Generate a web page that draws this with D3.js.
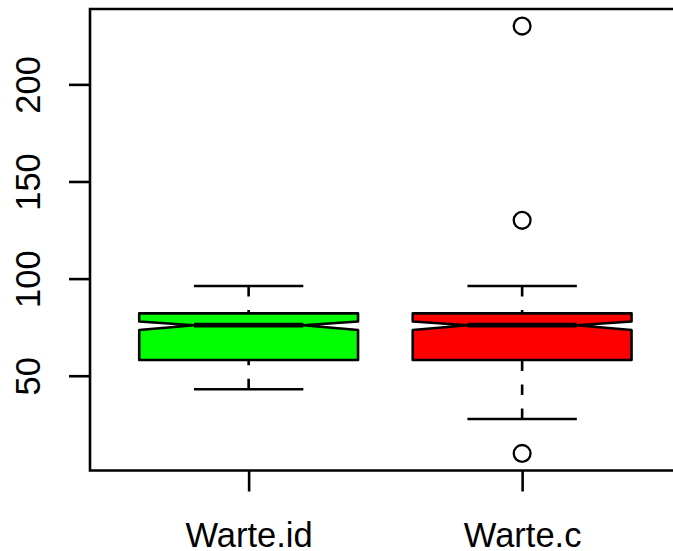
<!DOCTYPE html>
<html>
<head>
<meta charset="utf-8">
<script src="https://cdn.jsdelivr.net/npm/d3@7"></script>
<style>
  html, body { margin: 0; background: #fff; width: 673px; height: 551px; overflow: hidden; }
  svg { display: block; overflow: hidden; font-family: "Liberation Sans", Arial, sans-serif; }
</style>
</head>
<body>
<svg id="chart"></svg>
<script>
// values
var categories = ["Warte.id", "Warte.c"];
var boxColors = ["#00ff00", "#ff0000"];
var whiskerLow = [43, 27.7];
var q1 = [58.1, 58.1];
var median = [76, 76];
var q3 = [82.1, 82.1];
var whiskerHigh = [96.2, 96.2];
var notchLow = [73.5, 73.5];
var notchHigh = [77.9, 77.9];
var outliers = [[], [230, 130, 10]];
var yTicks = [50, 100, 150, 200];

var svgWidth = 673, svgHeight = 551;
var margin = {top: 9, left: 90, bottom: 80.5};

var svg = d3.select("#chart")
    .attr("width", svgWidth)
    .attr("height", svgHeight);

// R-style extended ranges (4%), right side of the plot falls outside the window
var x = d3.scaleLinear()
    .domain([0.42, 2.58])
    .range([margin.left, margin.left + 2.16 * 273.5]);

var y = d3.scaleLinear()
    .domain([1.2, 238.8])
    .range([svgHeight - margin.bottom, margin.top]);

var boxHalf = 0.4, capHalf = 0.2, notchFrac = 0.5;
var lw = 2.6;

var boxes = categories.map(function(c, i) {
  return {key: c, i: i, pos: i + 1};
});

var g = svg.selectAll(".box")
    .data(boxes)
    .enter().append("g")
    .attr("class", "box");

// whiskers, dashed, starting at the caps
[[whiskerHigh, q3], [whiskerLow, q1]].forEach(function(pair) {
  g.append("line")
      .attr("x1", d => x(d.pos)).attr("x2", d => x(d.pos))
      .attr("y1", d => y(pair[0][d.i])).attr("y2", d => y(pair[1][d.i]))
      .attr("stroke", "#000").attr("stroke-width", lw)
      .attr("stroke-dasharray", "10.5,13.5");
});

// caps
[whiskerHigh, whiskerLow].forEach(function(arr) {
  g.append("line")
      .attr("x1", d => x(d.pos - capHalf)).attr("x2", d => x(d.pos + capHalf))
      .attr("y1", d => y(arr[d.i])).attr("y2", d => y(arr[d.i]))
      .attr("stroke", "#000").attr("stroke-width", lw);
});

// notched box
g.append("path")
    .attr("d", function(d) {
      var i = d.i, p = d.pos;
      var pts = [
        [p - boxHalf, q1[i]], [p - boxHalf, notchLow[i]], [p - boxHalf * notchFrac, median[i]],
        [p - boxHalf, notchHigh[i]], [p - boxHalf, q3[i]], [p + boxHalf, q3[i]],
        [p + boxHalf, notchHigh[i]], [p + boxHalf * notchFrac, median[i]],
        [p + boxHalf, notchLow[i]], [p + boxHalf, q1[i]]
      ];
      return d3.line().x(v => x(v[0])).y(v => y(v[1]))(pts) + "Z";
    })
    .attr("fill", d => boxColors[d.i])
    .attr("stroke", "#000").attr("stroke-width", lw)
    .attr("stroke-linejoin", "round");

// median
g.append("line")
    .attr("x1", d => x(d.pos - boxHalf * notchFrac)).attr("x2", d => x(d.pos + boxHalf * notchFrac))
    .attr("y1", d => y(median[d.i])).attr("y2", d => y(median[d.i]))
    .attr("stroke", "#000").attr("stroke-width", 4.8);

// outliers
g.selectAll("circle")
    .data(d => outliers[d.i].map(v => ({pos: d.pos, v: v})))
    .enter().append("circle")
    .attr("cx", d => x(d.pos)).attr("cy", d => y(d.v))
    .attr("r", 8.4)
    .attr("fill", "none").attr("stroke", "#000").attr("stroke-width", 2.3);

// frame (its right side lies beyond the window)
var x0 = x.range()[0], x1 = x.range()[1], yb = y.range()[0], yt = y.range()[1];
svg.append("path")
    .attr("d", "M" + x1 + "," + yt + "H" + x0 + "V" + yb + "H" + x1)
    .attr("fill", "none").attr("stroke", "#000").attr("stroke-width", lw);

// y axis
var yAxis = svg.append("g")
    .attr("transform", "translate(" + margin.left + ",0)")
    .call(d3.axisLeft(y).tickValues(yTicks).tickSize(21).tickSizeOuter(0));
yAxis.select(".domain").remove();
yAxis.selectAll("line").attr("stroke", "#000").attr("stroke-width", lw);
yAxis.selectAll("text")
    .attr("x", null).attr("dy", null)
    .attr("transform", "translate(-50,0) rotate(-90)")
    .attr("text-anchor", "middle")
    .attr("font-size", 34.5)
    .attr("font-family", "Liberation Sans, Arial, sans-serif")
    .attr("fill", "#000");

// x axis
var xAxis = svg.append("g")
    .attr("transform", "translate(0," + yb + ")")
    .call(d3.axisBottom(x).tickValues([1, 2]).tickSize(21).tickSizeOuter(0)
      .tickFormat(d => categories[d - 1]));
xAxis.select(".domain").remove();
xAxis.selectAll("line").attr("stroke", "#000").attr("stroke-width", lw);
xAxis.selectAll("text")
    .attr("y", 76).attr("dy", null)
    .attr("font-size", 34.5)
    .attr("font-family", "Liberation Sans, Arial, sans-serif")
    .attr("fill", "#000");
</script>
</body>
</html>
